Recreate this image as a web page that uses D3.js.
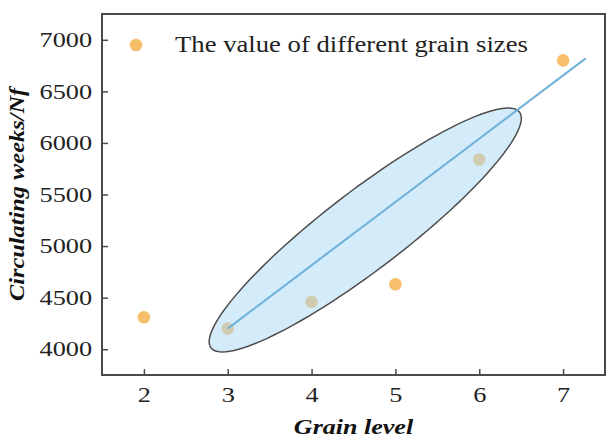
<!DOCTYPE html>
<html>
<head>
<meta charset="utf-8">
<script src="https://cdn.jsdelivr.net/npm/d3@7"></script>
<style>
  body { margin: 0; background: #fff; }
  svg { display: block; }
</style>
</head>
<body>
<svg id="chart"></svg>
<script>
// Values
const grainLevels = [2, 3, 4, 5, 6, 7]
const cycles = [4310, 4200, 4460, 4630, 5840, 6800]
const xTicks = [2, 3, 4, 5, 6, 7]
const yTicks = [4000, 4500, 5000, 5500, 6000, 6500, 7000]
const fitX = [3, 7.27]
const fitY = [4200, 6820]
// confidence ellipse: centre and two half-axis vectors, in data units
const ellipseCenter = [4.64, 5156]
const ellipseMajor = [1.84, 1143]
const ellipseMinor = [0.285, -304]
const legendLabel = "The value of different grain sizes"

const width = 606
const height = 442
const margin = { top: 14, right: 1, bottom: 67, left: 102 }

const svg = d3.select("#chart")
  .attr("width", width)
  .attr("height", height)

const x = d3.scaleLinear()
  .domain([1.5, 7.5])
  .range([margin.left, width - margin.right])

const y = d3.scaleLinear()
  .domain([3750, 7250])
  .range([height - margin.bottom, margin.top])

const serif = "'Liberation Serif', 'Times New Roman', serif"

// the source image text is wider than the font; stretch it horizontally
function stretch(sel, k) {
  sel.each(function() {
    const len = this.getComputedTextLength()
    d3.select(this)
      .attr("textLength", len * k)
      .attr("lengthAdjust", "spacingAndGlyphs")
  })
}

// points first, ellipse is drawn over them (that's why the inner dots look grey)
svg.append("g")
  .selectAll("circle")
  .data(grainLevels.map((g, i) => ({ g, v: cycles[i] })))
  .join("circle")
  .attr("cx", d => x(d.g))
  .attr("cy", d => y(d.v))
  .attr("r", 6.3)
  .attr("fill", "#f5bf6c")

const ellipsePts = d3.range(0, 361, 3).map(deg => {
  const t = deg * Math.PI / 180
  return [
    ellipseCenter[0] + Math.cos(t) * ellipseMajor[0] + Math.sin(t) * ellipseMinor[0],
    ellipseCenter[1] + Math.cos(t) * ellipseMajor[1] + Math.sin(t) * ellipseMinor[1]
  ]
})

svg.append("path")
  .datum(ellipsePts)
  .attr("d", d3.line().x(d => x(d[0])).y(d => y(d[1])).curve(d3.curveLinearClosed))
  .attr("fill", "#a9d9f6")
  .attr("fill-opacity", 0.5)
  .attr("stroke", "#4d4d4d")
  .attr("stroke-width", 1.5)

svg.append("path")
  .datum(fitX.map((v, i) => [v, fitY[i]]))
  .attr("d", d3.line().x(d => x(d[0])).y(d => y(d[1])))
  .attr("stroke", "#6fb0da")
  .attr("stroke-width", 2)
  .attr("fill", "none")

// frame
svg.append("rect")
  .attr("x", margin.left)
  .attr("y", margin.top)
  .attr("width", width - margin.left - margin.right)
  .attr("height", height - margin.top - margin.bottom)
  .attr("fill", "none")
  .attr("stroke", "#4a4a4a")
  .attr("stroke-width", 2)

svg.append("g")
  .attr("transform", `translate(0, ${height - margin.bottom})`)
  .call(d3.axisBottom(x)
    .tickValues(xTicks)
    .tickFormat(d3.format("d"))
    .tickSizeInner(-6)
    .tickSizeOuter(0)
    .tickPadding(12))
  .call(g => g.select(".domain").remove())
  .call(g => g.selectAll(".tick line")
    .attr("stroke", "#4a4a4a")
    .attr("stroke-width", 1.5))
  .call(g => g.selectAll(".tick text")
    .attr("font-family", serif)
    .attr("font-size", 21)
    .attr("fill", "#222")
    .call(stretch, 1.25))

svg.append("g")
  .attr("transform", `translate(${margin.left}, 0)`)
  .call(d3.axisLeft(y)
    .tickValues(yTicks)
    .tickFormat(d3.format("d"))
    .tickSizeInner(-6)
    .tickSizeOuter(0)
    .tickPadding(10))
  .call(g => g.select(".domain").remove())
  .call(g => g.selectAll(".tick line")
    .attr("stroke", "#4a4a4a")
    .attr("stroke-width", 1.5))
  .call(g => g.selectAll(".tick text")
    .attr("font-family", serif)
    .attr("font-size", 21)
    .attr("fill", "#222")
    .call(stretch, 1.25))

// axis titles
svg.append("text")
  .attr("x", (margin.left + width - margin.right) / 2)
  .attr("y", 434)
  .attr("text-anchor", "middle")
  .attr("font-family", serif)
  .attr("font-size", 21)
  .attr("font-weight", "bold")
  .attr("font-style", "italic")
  .attr("fill", "#111")
  .text("Grain level")
  .call(stretch, 1.24)

svg.append("text")
  .attr("transform", `translate(24, ${(margin.top + height - margin.bottom) / 2}) rotate(-90)`)
  .attr("text-anchor", "middle")
  .attr("font-family", serif)
  .attr("font-size", 21)
  .attr("font-weight", "bold")
  .attr("font-style", "italic")
  .attr("fill", "#111")
  .text("Circulating weeks/Nf")
  .call(stretch, 1.16)

// legend
svg.append("circle")
  .attr("cx", 136)
  .attr("cy", 45)
  .attr("r", 6.3)
  .attr("fill", "#f5bf6c")

svg.append("text")
  .attr("x", 175)
  .attr("y", 52)
  .attr("font-family", serif)
  .attr("font-size", 23)
  .attr("fill", "#222")
  .text(legendLabel)
  .call(stretch, 1.16)
</script>
</body>
</html>
